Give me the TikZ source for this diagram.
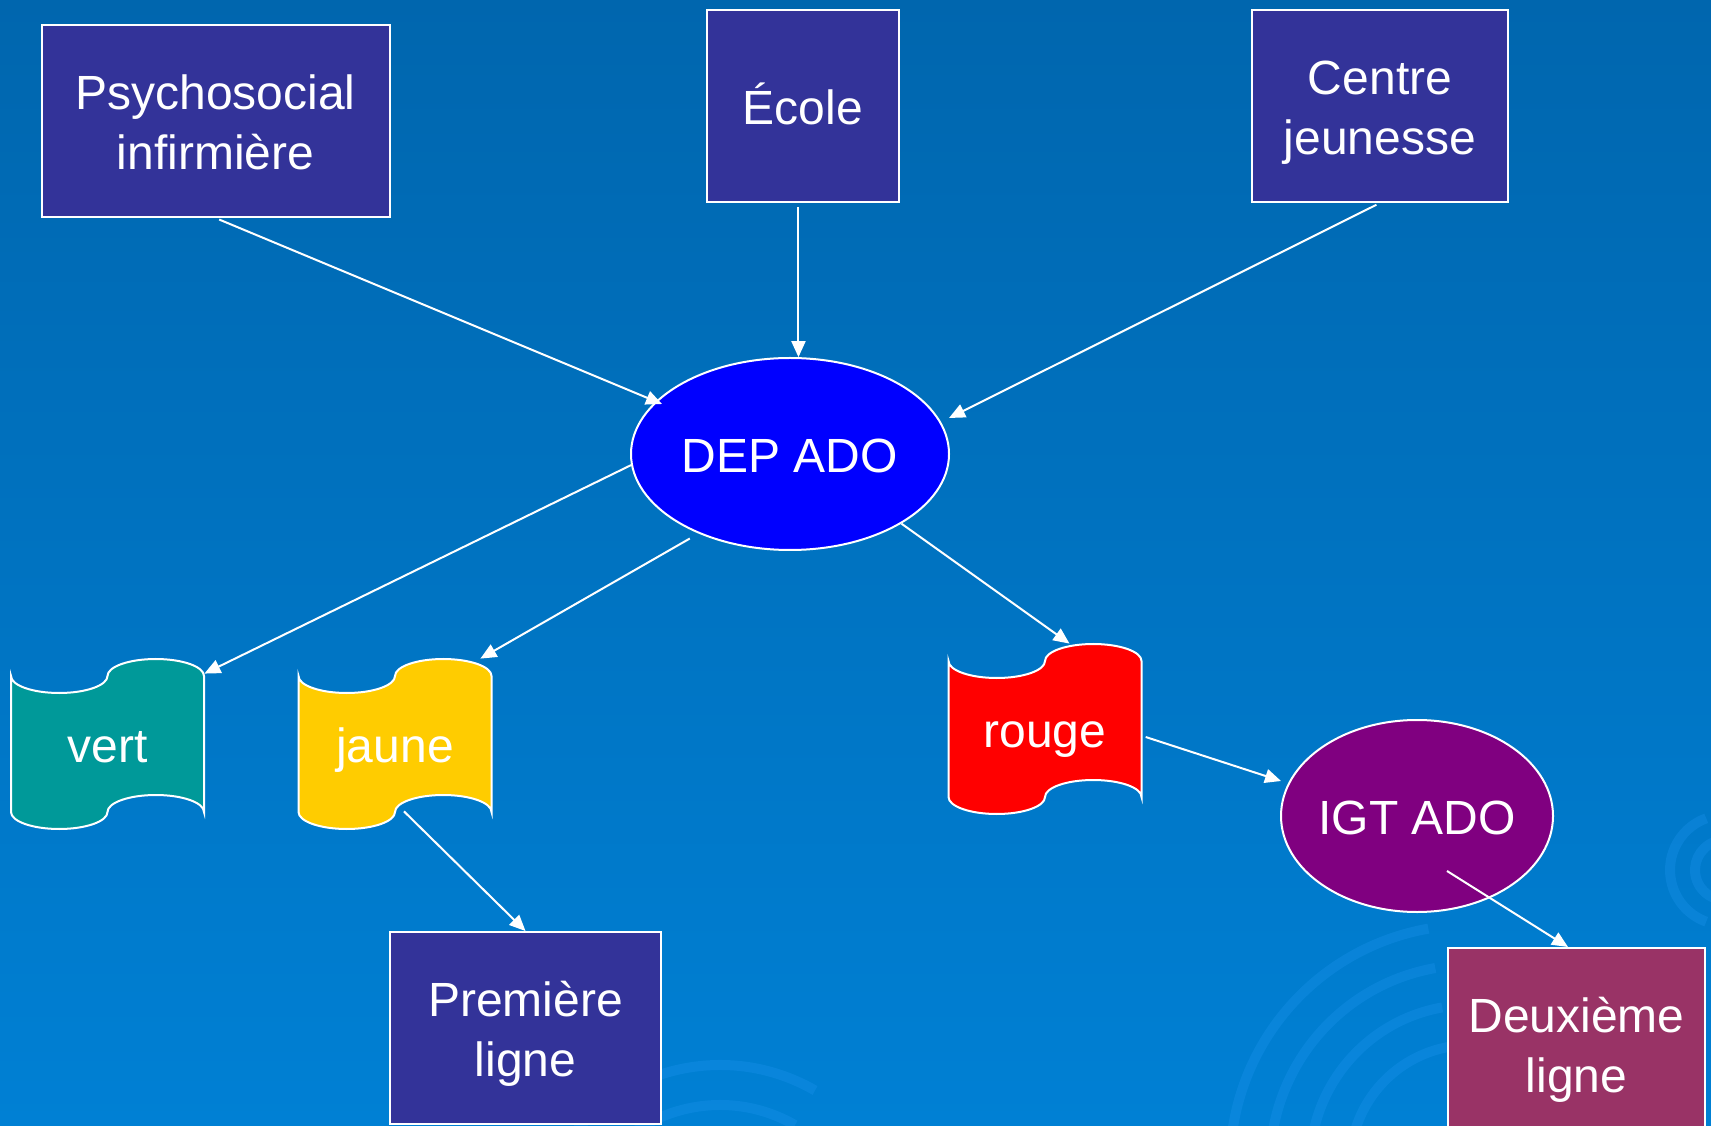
\documentclass[tikz,border=0pt]{standalone}
\usepackage{fontspec}
\setmainfont{Liberation Sans}
\usepackage{tikz}
\usetikzlibrary{positioning,shapes.geometric,arrows.meta,calc}

\definecolor{slidetop}{RGB}{0,102,174}
\definecolor{slidebottom}{RGB}{0,128,212}
\definecolor{swirlblue}{RGB}{30,150,240}
\definecolor{boxblue}{RGB}{51,51,153}
\definecolor{depblue}{RGB}{0,0,255}
\definecolor{igtpurple}{RGB}{128,0,128}
\definecolor{deuxrose}{RGB}{153,51,102}
\definecolor{vertteal}{RGB}{0,153,153}
\definecolor{jaunegold}{RGB}{255,204,0}
\definecolor{rougered}{RGB}{255,0,0}

% line strut, so every line sits like a slide text line
\newcommand{\ls}{\rule[-0.212em]{0pt}{1.2em}}

% wavy banner: name, centre, fill, text
\newcommand{\banner}[4]{%
  \filldraw[bannerline, fill=#3, shift={(#2)}]
    (-96.5,68) arc[start angle=180, end angle=360, x radius=48.25, y radius=17]
               arc[start angle=180, end angle=0, x radius=48.25, y radius=17]
    -- (96.5,-68) arc[start angle=0, end angle=180, x radius=48.25, y radius=17]
                  arc[start angle=0, end angle=-180, x radius=48.25, y radius=17]
    -- cycle;
  \node[bannernode] (#1) at (#2) {\ls #4};
}

\begin{document}
\begin{tikzpicture}[x=0.5pt, y=0.5pt,
  labeltext/.style={text=white, align=center, inner sep=0pt,
    font=\fontsize{24}{28.5}\selectfont},
  squarednode/.style={labeltext, rectangle, draw=white, line width=1pt, fill=boxblue},
  ovalnode/.style={labeltext, ellipse, draw=white, line width=1pt, inner xsep=-4pt},
  bannerline/.style={draw=white, line width=1pt},
  bannernode/.style={labeltext, rectangle, minimum width=96.5pt, minimum height=85pt},
  link/.style={draw=white, line width=1pt, -{Triangle[length=8pt,width=7pt]}},
  swirl/.style={draw=swirlblue, line width=5pt, opacity=0.3}
]

% background
\shade[top color=slidetop, bottom color=slidebottom] (0,0) rectangle (1711,1125);
\useasboundingbox (0,0) rectangle (1711,1125);
\clip (0,0) rectangle (1711,1125);
\begin{scope}[swirl]
  \foreach \r in {120,160,200,240}
    \draw ([shift={(1470,-40)}]100:\r) arc[start angle=100, end angle=175, radius=\r];
  \foreach \r in {150,190}
    \draw ([shift={(720,-130)}]60:\r) arc[start angle=60, end angle=150, radius=\r];
  \foreach \r in {30,55}
    \draw ([shift={(1725,255)}]110:\r) arc[start angle=110, end angle=250, radius=\r];
\end{scope}

%Nodes
\node[ovalnode, fill=depblue, minimum width=159pt, minimum height=96pt] (dep) at (790,671) {\ls DEP ADO};
\node[squarednode, minimum width=174pt, minimum height=96pt] (psy) at (215.5,1004) {\ls Psychosocial\\\ls infirmière};
\node[squarednode, minimum width=96pt, minimum height=96pt] (ecole) at (803,1019) {\ls École};
\node[squarednode, minimum width=128pt, minimum height=96pt] (centre) at (1380,1019) {\ls Centre\\\ls jeunesse};

\banner{vert}{107.5,381}{vertteal}{vert}
\banner{jaune}{395,381}{jaunegold}{jaune}
\banner{rouge}{1045,396}{rougered}{rouge}

\node[ovalnode, fill=igtpurple, minimum width=136pt, minimum height=96pt] (igt) at (1417,309) {\ls IGT ADO};
\node[squarednode, minimum width=135.5pt, minimum height=96pt] (prem) at (525.5,97) {\ls Première\\\ls ligne};
\node[squarednode, fill=deuxrose, minimum width=128.5pt, minimum height=96pt] (deux) at (1576.5,81) {\ls Deuxième\\\ls ligne};

%Arrows
\draw[link, shorten <=2pt] (psy.south) -- ($(dep.center)+(-128,50)$);
\draw[link, shorten <=2pt] (dep.85 |- ecole.south) -- (dep.85);
\draw[link, shorten <=2pt] (centre.south) -- ($(dep.center)+(159,36)$);
\draw[link] (dep.184) -- (vert.36);
\draw[link, shorten <=5pt] (dep.221) -- (jaune.45);
\draw[link] (dep.-32) -- (rouge.74);
\draw[link, shorten <=2pt] (rouge.-4) -- ($(igt.center)+(-136,35)$);
\draw[link] ($(jaune.south)+(9,18)$) -- (prem.north);
\draw[link] ($(igt.center)+(30,-55)$) -- (deux.95);
\end{tikzpicture}
\end{document}
